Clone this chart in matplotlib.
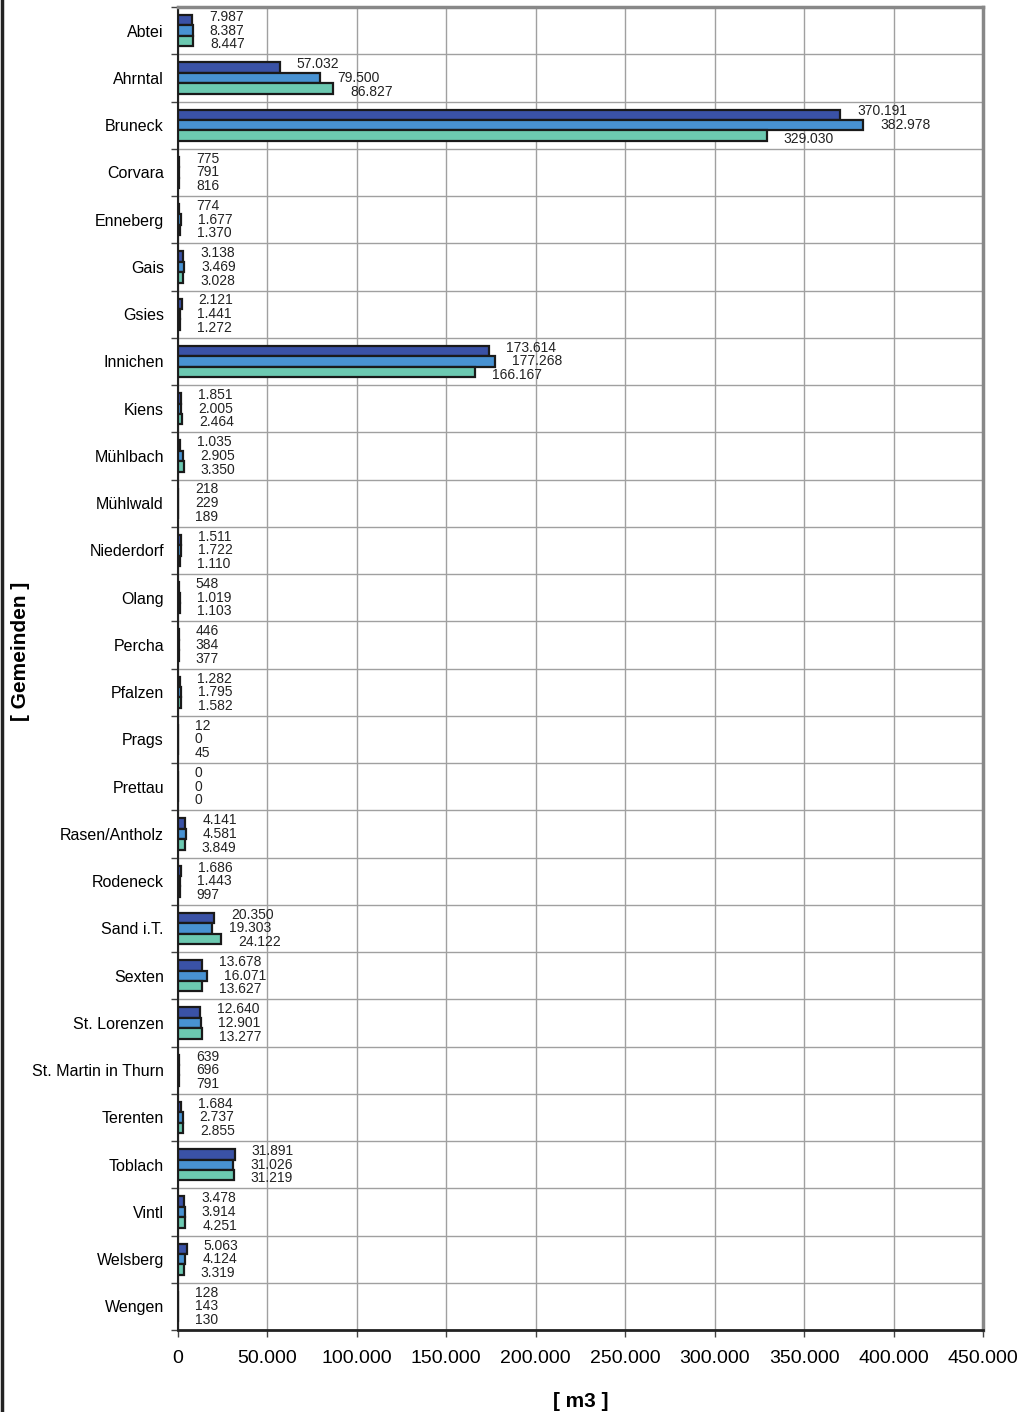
import matplotlib.pyplot as plt
import numpy as np
from matplotlib.lines import Line2D

gemeinden = ['Abtei', 'Ahrntal', 'Bruneck', 'Corvara', 'Enneberg', 'Gais', 'Gsies',
             'Innichen', 'Kiens', 'Mühlbach', 'Mühlwald', 'Niederdorf', 'Olang',
             'Percha', 'Pfalzen', 'Prags', 'Prettau', 'Rasen/Antholz', 'Rodeneck',
             'Sand i.T.', 'Sexten', 'St. Lorenzen', 'St. Martin in Thurn',
             'Terenten', 'Toblach', 'Vintl', 'Welsberg', 'Wengen']

series_a = [7987, 57032, 370191, 775, 774, 3138, 2121, 173614, 1851, 1035, 218,
            1511, 548, 446, 1282, 12, 0, 4141, 1686, 20350, 13678, 12640, 639,
            1684, 31891, 3478, 5063, 128]
series_b = [8387, 79500, 382978, 791, 1677, 3469, 1441, 177268, 2005, 2905, 229,
            1722, 1019, 384, 1795, 0, 0, 4581, 1443, 19303, 16071, 12901, 696,
            2737, 31026, 3914, 4124, 143]
series_c = [8447, 86827, 329030, 816, 1370, 3028, 1272, 166167, 2464, 3350, 189,
            1110, 1103, 377, 1582, 45, 0, 3849, 997, 24122, 13627, 13277, 791,
            2855, 31219, 4251, 3319, 130]

colors = ['#3a52a6', '#4892d2', '#6cc9b1']
x_ticks = np.arange(0, 450001, 50000)


def de_format(v):
    return f'{v:,.0f}'.replace(',', '.')


plt.rcParams['font.family'] = ['Liberation Sans', 'DejaVu Sans']

fig = plt.figure(figsize=(10.22, 14.12), dpi=100)
ax = fig.add_axes([0.174, 0.058, 0.788, 0.937])

y = np.arange(len(gemeinden))
bar_h = 0.22
label_step = 0.29

for k, (vals, color) in enumerate(zip([series_a, series_b, series_c], colors)):
    pos = y + (k - 1) * bar_h
    ax.barh(pos, vals, height=bar_h, color=color, edgecolor='#1a1a1a',
            linewidth=1.6, zorder=3)
    for yi, v in zip(y, vals):
        ax.annotate(de_format(v), (v, yi + (k - 1) * label_step),
                    xytext=(17, 0), textcoords='offset pixels',
                    ha='left', va='center', fontsize=10, color='#222222',
                    zorder=4)

ax.set_xlim(0, 450000)
ax.set_ylim(len(gemeinden) - 0.5, -0.5)
ax.set_xticks(x_ticks)
ax.set_xticklabels([de_format(v) for v in x_ticks], fontsize=14)
ax.set_yticks(y)
ax.set_yticklabels(gemeinden, fontsize=11.5)
ax.set_yticks(np.arange(len(gemeinden) + 1) - 0.5, minor=True)

ax.tick_params(axis='y', which='major', length=0, pad=10)
ax.tick_params(axis='y', which='minor', length=5, width=1, color='#444444')
ax.tick_params(axis='x', which='major', length=5, width=1, color='#444444', pad=9)

ax.grid(axis='x', which='major', color='#a0a0a0', linewidth=1, zorder=0)
ax.grid(axis='y', which='minor', color='#a0a0a0', linewidth=1, zorder=0)

ax.spines['left'].set_color('#222222')
ax.spines['left'].set_linewidth(1.5)
ax.spines['bottom'].set_color('#222222')
ax.spines['bottom'].set_linewidth(2)
for s in ['top', 'right']:
    ax.spines[s].set_color('#888888')
    ax.spines[s].set_linewidth(2.5)

ax.set_xlabel('[ m3 ]', fontsize=15, fontweight='bold', labelpad=18)
ax.set_ylabel('[ Gemeinden ]', fontsize=15, fontweight='bold')
ax.yaxis.set_label_coords(-0.183, 0.513)

fig.add_artist(Line2D([0.0015, 0.0015], [0, 1], color='#222222', linewidth=2.5,
                      transform=fig.transFigure))

plt.savefig('out.png', dpi=100)
